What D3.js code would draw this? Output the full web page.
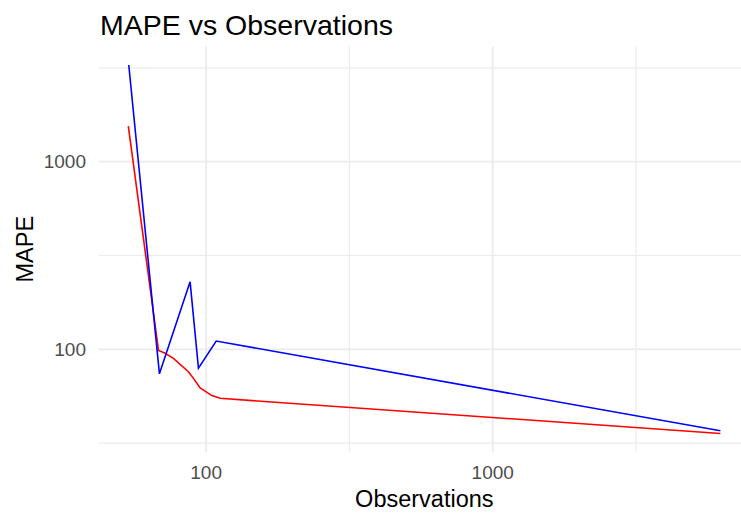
<!DOCTYPE html>
<head>
  <style>
    body { margin: 0; background: #fff; }
    text { font-family: "Liberation Sans", Arial, sans-serif; }
  </style>
  <title>MAPE vs Observations</title>
</head>

<body>
  <script src="https://cdn.jsdelivr.net/npm/d3@7"></script>

  <script>
    // values (log-log)
    var blue_obs  = [53.7, 68.7, 87.9, 94.0, 108.4, 6230]
    var blue_mape = [3275, 74.0, 229, 79.3, 110.7, 36.8]
    var red_obs   = [53.5, 68.2, 71.9, 76.9, 86.7, 90.3, 95.3, 104.7, 111.9, 6230]
    var red_mape  = [1549, 98.5, 95.2, 89.5, 76.0, 70.0, 62.2, 56.7, 54.8, 35.6]
    var x_ticks = [100, 1000]
    var y_ticks = [100, 1000]
    var x_tick_labels = ["100", "1000"]
    var y_tick_labels = ["100", "1000"]

    var width = 741
    var height = 513
    var panel = {left: 98.7, right: 750, top: 46.6, bottom: 451.9}

    var svg = d3.select("body").append("svg")
                .attr("width", width)
                .attr("height", height)

    // log extent expanded by 5% like ggplot does
    function expanded(vals) {
      var lo = Math.log10(d3.min(vals)), hi = Math.log10(d3.max(vals))
      var pad = (hi - lo) * 0.05
      return [Math.pow(10, lo - pad), Math.pow(10, hi + pad)]
    }

    var x = d3.scaleLog().domain(expanded(blue_obs.concat(red_obs))).range([panel.left, panel.right])
    var y = d3.scaleLog().domain(expanded(blue_mape.concat(red_mape))).range([panel.bottom, panel.top])

    // minor breaks halfway (in log) between majors
    function minors(ticks, dom) {
      var all = [ticks[0] / 10].concat(ticks).concat([ticks[ticks.length - 1] * 10])
      var out = []
      for (var i = 0; i < all.length - 1; i++) {
        var m = Math.sqrt(all[i] * all[i + 1])
        if (m > dom[0] && m < dom[1]) out.push(m)
      }
      return out
    }

    var grid = svg.append("g")
    grid.selectAll(".xminor").data(minors(x_ticks, x.domain())).enter().append("line")
      .attr("x1", d => x(d)).attr("x2", d => x(d))
      .attr("y1", panel.top).attr("y2", panel.bottom)
      .attr("stroke", "#EBEBEB").attr("stroke-width", 1.2)
    grid.selectAll(".yminor").data(minors(y_ticks, y.domain())).enter().append("line")
      .attr("y1", d => y(d)).attr("y2", d => y(d))
      .attr("x1", panel.left).attr("x2", panel.right)
      .attr("stroke", "#EBEBEB").attr("stroke-width", 1.2)
    grid.selectAll(".xmajor").data(x_ticks).enter().append("line")
      .attr("x1", d => x(d)).attr("x2", d => x(d))
      .attr("y1", panel.top).attr("y2", panel.bottom)
      .attr("stroke", "#EBEBEB").attr("stroke-width", 1.8)
    grid.selectAll(".ymajor").data(y_ticks).enter().append("line")
      .attr("y1", d => y(d)).attr("y2", d => y(d))
      .attr("x1", panel.left).attr("x2", panel.right)
      .attr("stroke", "#EBEBEB").attr("stroke-width", 1.8)

    // the two series
    var line = d3.line().x(d => x(d[0])).y(d => y(d[1]))
    svg.append("path")
      .datum(d3.zip(red_obs, red_mape))
      .attr("d", line)
      .attr("fill", "none").attr("stroke", "#FF0000").attr("stroke-width", 1.6)
    svg.append("path")
      .datum(d3.zip(blue_obs, blue_mape))
      .attr("d", line)
      .attr("fill", "none").attr("stroke", "#0000FF").attr("stroke-width", 1.6)

    // tick labels
    svg.selectAll(".xlab").data(x_ticks).enter().append("text")
      .attr("x", d => x(d)).attr("y", 479)
      .attr("text-anchor", "middle")
      .attr("font-size", 19).attr("fill", "#4D4D4D")
      .text((d, i) => x_tick_labels[i])
    svg.selectAll(".ylab").data(y_ticks).enter().append("text")
      .attr("x", 86).attr("y", d => y(d))
      .attr("dy", "0.35em")
      .attr("text-anchor", "end")
      .attr("font-size", 19).attr("fill", "#4D4D4D")
      .text((d, i) => y_tick_labels[i])

    // axis titles
    svg.append("text")
      .attr("x", (panel.left + panel.right) / 2).attr("y", 507)
      .attr("text-anchor", "middle")
      .attr("font-size", 23.5).attr("fill", "#000")
      .text("Observations")
    svg.append("text")
      .attr("transform", "translate(33," + ((panel.top + panel.bottom) / 2) + ") rotate(-90)")
      .attr("text-anchor", "middle")
      .attr("font-size", 23.5).attr("fill", "#000")
      .text("MAPE")

    // title
    svg.append("text")
      .attr("x", 100).attr("y", 35)
      .attr("font-size", 28.5).attr("fill", "#000")
      .text("MAPE vs Observations")
  </script>
</body>
